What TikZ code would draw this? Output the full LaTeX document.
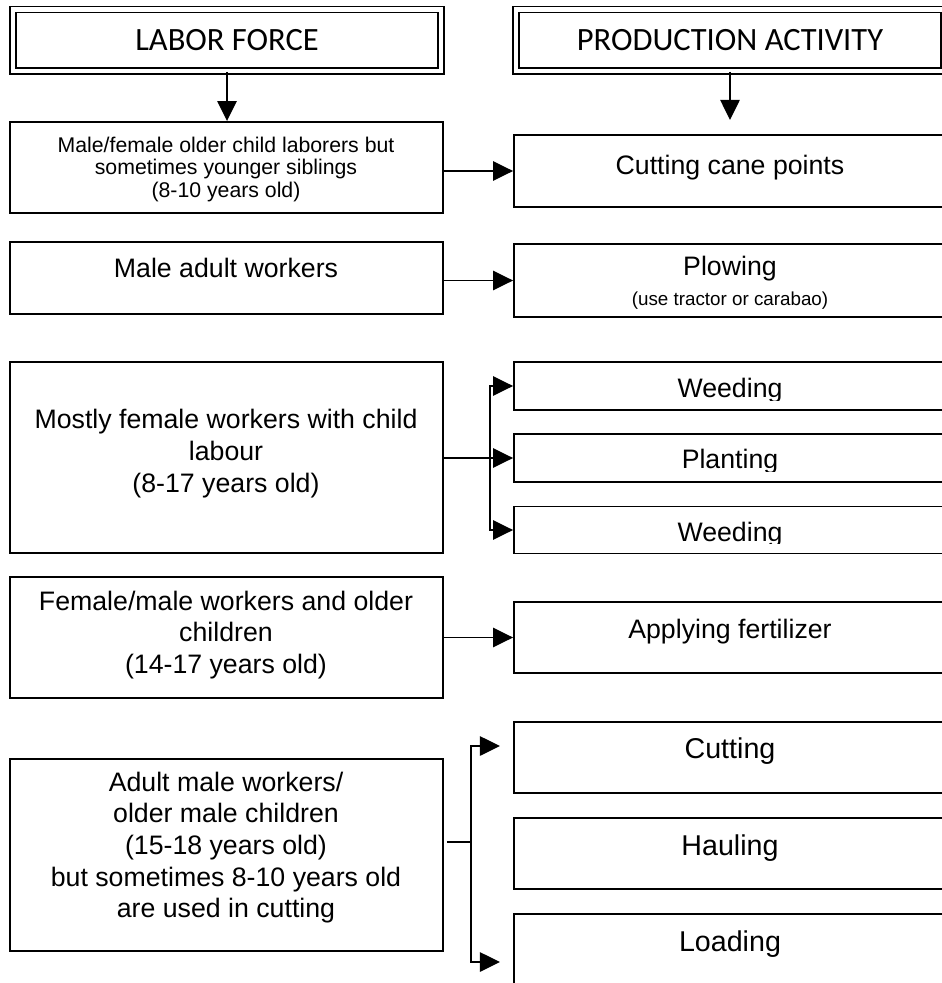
\documentclass[tikz,border=0pt]{standalone}
\usepackage{fontspec}
\setmainfont{Liberation Sans}
\newfontfamily\headfont{Carlito}
\usetikzlibrary{arrows.meta}

\tikzstyle{arrow}  = [line width=0.9pt, -{Triangle[length=11.4pt, width=11pt]}]
\tikzstyle{edge}   = [line width=0.9pt]
\tikzstyle{header} = [draw, line width=1.1pt, double, double distance=2.3pt, minimum width=8.56cm, minimum height=1.23cm, inner sep=0pt, font=\headfont\fontsize{18.5}{22}\selectfont]
\tikzstyle{lbox}   = [draw, line width=1.1pt, minimum width=8.66cm, inner sep=0pt]
\tikzstyle{rbox}   = [draw, line width=1.1pt, minimum width=8.64cm, inner sep=0pt]
\tikzstyle{txt}    = [inner sep=0pt, align=center, font=\fontsize{15.2}{18}\selectfont]

\begin{document}
\begin{tikzpicture}[x=0.02cm, y=-0.02cm]

\useasboundingbox (0,0) rectangle (942,983);
\clip (0,0) rectangle (942,983);

% headers
\node[header] (lfhead) at (227,40.25)  {LABOR FORCE};
\node[header] (pahead) at (730,40.25)  {PRODUCTION ACTIVITY};

% labor force boxes
\node[lbox, minimum height=1.82cm] (child)  at (226.5,167.5) {};
\node[lbox, minimum height=1.44cm] (male)   at (226.5,278)   {};
\node[lbox, minimum height=3.82cm] (mostly) at (226.5,457.5) {};
\node[lbox, minimum height=2.42cm] (female) at (226.5,637.5) {};
\node[lbox, minimum height=3.84cm] (adult)  at (226.5,855)   {};

% production activity boxes
\node[rbox, minimum height=1.44cm] (cane)  at (730,171)   {};
\node[rbox, minimum height=1.46cm] (plow)  at (730,280.5) {};
\node[rbox, minimum height=0.96cm] (weed1) at (730,386)   {};
\node[rbox, minimum height=0.96cm] (plant) at (730,458)   {};
\node[rbox, minimum height=0.94cm] (weed2) at (730,530)   {};
\node[rbox, minimum height=1.42cm] (fert)  at (730,637.5) {};
\node[rbox, minimum height=1.42cm] (cut)   at (730,757.5) {};
\node[rbox, minimum height=1.42cm] (haul)  at (730,853.5) {};
\node[rbox, minimum height=1.44cm] (load)  at (730,950)   {};

% texts of the labor force boxes
\node[txt, font=\fontsize{12.1}{12.8}\selectfont] (childtxt) at (226,169.5)
  {Male/female older child laborers but\\sometimes younger siblings\\(8-10 years old)};
\node[txt] (maletxt)   at (226,268)   {Male adult workers};
\node[txt] (mostlytxt) at (226,453.5) {Mostly female workers with child\\labour\\(8-17 years old)};
\node[txt] (femaletxt) at (226,635)   {Female/male workers and older\\children\\(14-17 years old)};
\node[txt] (adulttxt)  at (226,847.5) {Adult male workers/\\older male children\\(15-18 years old)\\but sometimes 8-10 years old\\are used in cutting};

% texts of the production activity boxes
\node[txt] (canetxt) at (730,168) {Cutting cane points};
\node[txt] (plowtxt) at (730,283) {Plowing\\[-1pt]{\fontsize{10.7}{12}\selectfont (use tractor or carabao)}};
\begin{scope}
  \clip (514,362) rectangle (946,400);
  \node[txt] (weed1txt) at (730,391) {Weeding};
\end{scope}
\begin{scope}
  \clip (514,434) rectangle (946,471);
  \node[txt] (planttxt) at (730,462) {Planting};
\end{scope}
\begin{scope}
  \clip (514,507) rectangle (946,543);
  \node[txt] (weed2txt) at (730,535) {Weeding};
\end{scope}
\node[txt] (serttxt) at (730,632) {Applying fertilizer};
\node[txt, font=\fontsize{16.3}{19}\selectfont] (cuttxt)  at (730,751) {Cutting};
\node[txt, font=\fontsize{16.3}{19}\selectfont] (haultxt) at (730,848) {Hauling};
\node[txt, font=\fontsize{16.3}{19}\selectfont] (loadtxt) at (730,944) {Loading};

% header arrows
\coordinate (paend) at (730,120);
\draw[arrow] (lfhead.south) -- (lfhead.south |- child.north);
\draw[arrow] (pahead.south) -- (paend);

% one to one
\draw[arrow] (child.east |- cane.west) -- (cane.west);
\draw[arrow] (male.east |- plow.west) -- (plow.west);
\draw[arrow] (female.east) -- (fert.west);

% fork to weeding / planting
\coordinate (fork1) at (490,458);
\draw[arrow] (mostly.east |- plant.west) -- (plant.west);
\draw[arrow] (fork1) |- (weed1.west);
\draw[arrow] (fork1) |- (weed2.west);

% fork to cutting / hauling / loading
\coordinate (fork2)  at (471,842);
\coordinate (cutin)  at (500,746);
\coordinate (loadin) at (500,962);
\draw[edge]  ([xshift=0.06cm]adult.east |- fork2) -- (fork2);
\draw[arrow] (fork2) |- (cutin);
\draw[arrow] (fork2) |- (loadin);

\end{tikzpicture}
\end{document}
